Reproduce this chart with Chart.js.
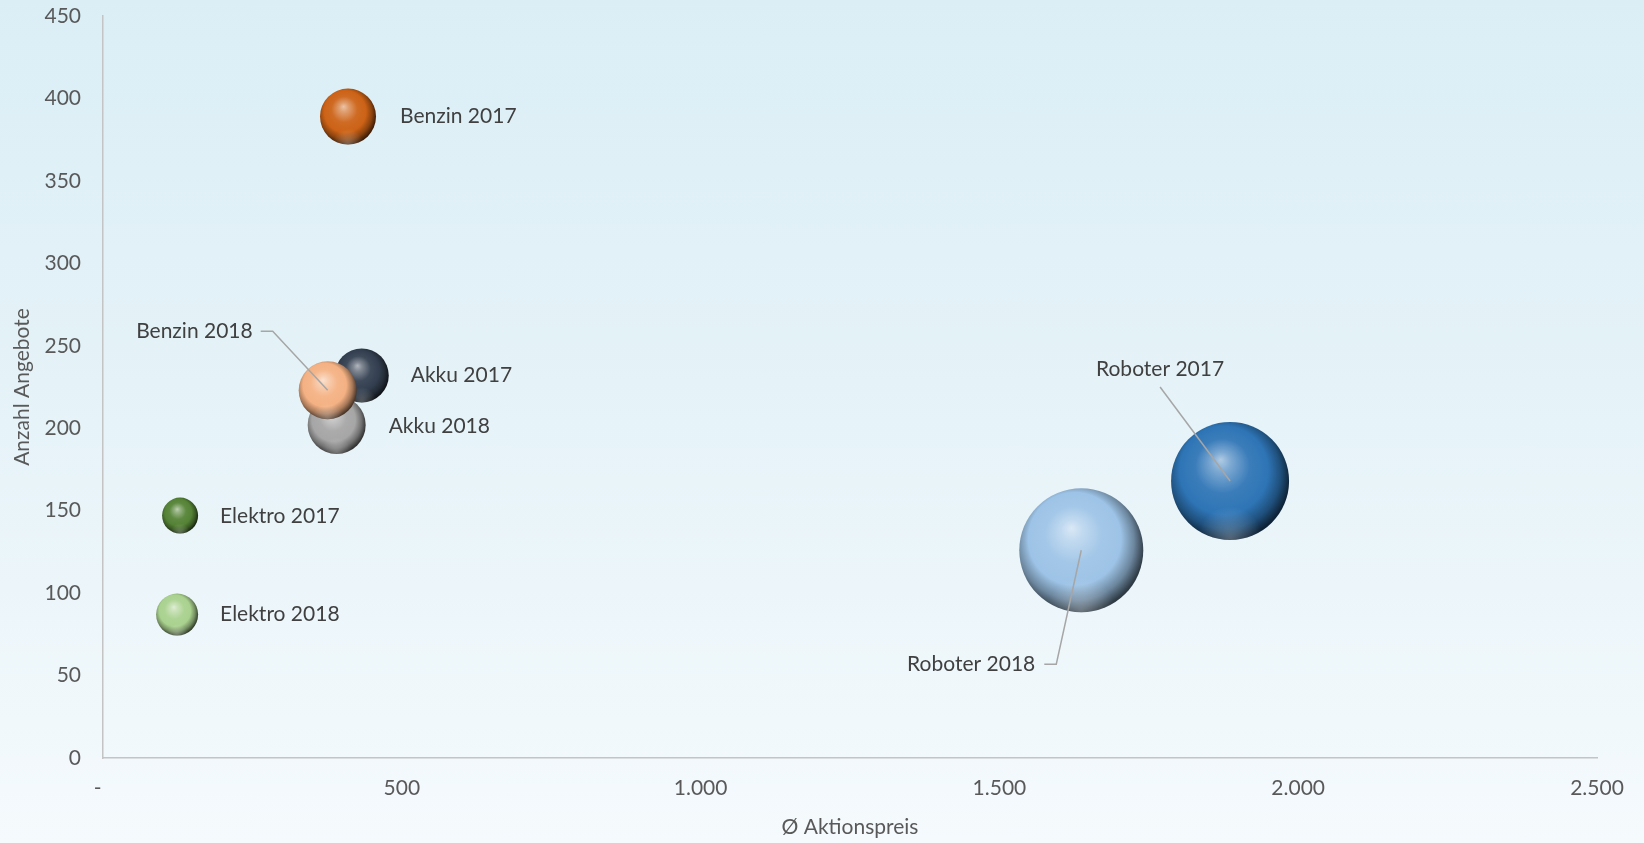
<!DOCTYPE html>
<html><head><meta charset="utf-8">
<script src="https://cdn.jsdelivr.net/npm/chart.js@4"></script>
<style>
html,body{margin:0;padding:0;overflow:hidden;width:1644px;height:843px;background:linear-gradient(180deg,#dbeef6 0%,#e6f3f8 50%,#f5fafd 100%)}
canvas{display:block}
</style>
</head><body>
<canvas id="c" width="1644" height="843"></canvas>
<script>
// ---- data ----
const seriesNames = ['Benzin 2017','Benzin 2018','Akku 2017','Akku 2018','Elektro 2017','Elektro 2018','Roboter 2017','Roboter 2018'];
const avgPrice    = [410, 376, 433, 391, 129, 124, 1886, 1637];
const offerCount  = [389, 223, 232, 202, 147, 87, 168, 126];
const bubbleSize  = [28, 29, 27, 29, 18, 21, 59, 62];
const xTickValues = [0, 500, 1000, 1500, 2000, 2500];
const yTickValues = [0, 50, 100, 150, 200, 250, 300, 350, 400, 450];

// ---- styles ----
const seriesColors = ['#cc6216','#f4b183','#333f50','#a6a6a6','#548235','#a9d18e','#2e75b6','#9dc3e6'];
// label placement relative to bubble centre (px)
const labelLayout = [
  {dx: 52,  dy: 0,    align: 'left'},
  {dx: -75, dy: -59,  align: 'right', leader: [[-67,-59],[-55,-59],[0,0]]},
  {dx: 49,  dy: 0,    align: 'left'},
  {dx: 52,  dy: 1,    align: 'left'},
  {dx: 40,  dy: 1,    align: 'left'},
  {dx: 43,  dy: 0,    align: 'left'},
  {dx: -70, dy: -112, align: 'center', leader: [[-70,-94],[0,0]]},
  {dx: -46, dy: 114,  align: 'right', leader: [[-37,114],[-25,114],[0,0]]}
];

function shade(hex, amt) {
  const n = parseInt(hex.slice(1), 16);
  let r = n >> 16, g = (n >> 8) & 255, b = n & 255;
  if (amt >= 0) { r += (255 - r) * amt; g += (255 - g) * amt; b += (255 - b) * amt; }
  else { r *= 1 + amt; g *= 1 + amt; b *= 1 + amt; }
  return 'rgb(' + Math.round(r) + ',' + Math.round(g) + ',' + Math.round(b) + ')';
}
function sphere(ctx) {
  const chart = ctx.chart, i = ctx.datasetIndex, c = seriesColors[i];
  if (!chart.chartArea || !ctx.raw) return c;
  const x = chart.scales.x.getPixelForValue(ctx.raw.x);
  const y = chart.scales.y.getPixelForValue(ctx.raw.y);
  const r = ctx.raw.r;
  const g = chart.ctx.createRadialGradient(x - r * 0.16, y - r * 0.36, 0, x - r * 0.08, y - r * 0.1, r * 1.1);
  g.addColorStop(0, shade(c, 0.62));
  g.addColorStop(0.15, shade(c, 0.38));
  g.addColorStop(0.42, shade(c, 0.06));
  g.addColorStop(0.68, c);
  g.addColorStop(0.86, shade(c, -0.32));
  g.addColorStop(1, shade(c, -0.7));
  return g;
}
function fmtDE(v) {
  if (v === 0) return '-  ';
  return String(v).replace(/\B(?=(\d{3})+(?!\d))/g, '.');
}

const reflectionPlugin = {
  id: 'sphereReflection',
  afterDatasetDraw(chart, args) {
    const el = chart.getDatasetMeta(args.index).data[0];
    if (!el) return;
    const r = el.options.radius, x = el.x, y = el.y, ctx = chart.ctx;
    ctx.save();
    ctx.beginPath();
    ctx.arc(x, y, r, 0, Math.PI * 2);
    ctx.clip();
    const g = ctx.createRadialGradient(x, y + r * 0.98, 0, x, y + r * 0.98, r * 0.55);
    g.addColorStop(0, 'rgba(255,255,255,0.28)');
    g.addColorStop(1, 'rgba(255,255,255,0)');
    ctx.fillStyle = g;
    ctx.fillRect(x - r, y - r, 2 * r, 2 * r);
    ctx.restore();
  }
};

const labelPlugin = {
  id: 'bubbleLabels',
  afterDatasetsDraw(chart) {
    const ctx = chart.ctx;
    ctx.save();
    ctx.font = '21px Lato';
    ctx.textBaseline = 'middle';
    chart.data.datasets.forEach((ds, i) => {
      const el = chart.getDatasetMeta(i).data[0];
      const L = labelLayout[i];
      if (L.leader) {
        ctx.strokeStyle = '#a6a6a6';
        ctx.lineWidth = 1.5;
        ctx.beginPath();
        L.leader.forEach((p, k) => {
          const px = el.x + p[0], py = el.y + p[1];
          if (k === 0) ctx.moveTo(px, py); else ctx.lineTo(px, py);
        });
        ctx.stroke();
      }
      ctx.fillStyle = '#404040';
      ctx.textAlign = L.align;
      ctx.fillText(ds.label, el.x + L.dx, el.y + L.dy);
    });
    ctx.restore();
  }
};

Chart.defaults.font.family = 'Lato';
Chart.defaults.font.size = 21;
Chart.defaults.color = '#595959';

new Chart(document.getElementById('c'), {
  type: 'bubble',
  data: {
    datasets: seriesNames.map((name, i) => ({
      label: name,
      data: [{x: avgPrice[i], y: offerCount[i], r: bubbleSize[i]}],
      backgroundColor: sphere,
      hoverBackgroundColor: sphere,
      borderWidth: 0,
      hoverBorderWidth: 0,
      hoverRadius: 0,
      clip: false
    }))
  },
  options: {
    responsive: false,
    animation: false,
    devicePixelRatio: 1,
    events: [],
    layout: {autoPadding: false, padding: {left: 0, top: 16, right: 47, bottom: 0}},
    plugins: {legend: {display: false}, tooltip: {enabled: false}},
    scales: {
      x: {
        type: 'linear', min: 0, max: 2500,
        afterBuildTicks: s => { s.ticks = xTickValues.map(v => ({value: v})); },
        afterFit: s => { s.height = 85; s.paddingLeft = 0; s.paddingRight = 0; s.paddingTop = 0; s.paddingBottom = 0; },
        grid: {display: false},
        border: {display: true, color: '#c4c4c4', width: 1.5},
        ticks: {padding: 10, color: '#595959', callback: v => fmtDE(v), maxRotation: 0},
        title: {display: true, text: 'Ø Aktionspreis', color: '#595959', padding: {top: 0, bottom: 3}}
      },
      y: {
        type: 'linear', min: 0, max: 450,
        afterBuildTicks: s => { s.ticks = yTickValues.map(v => ({value: v})); },
        afterFit: s => { s.width = 103; s.paddingLeft = 0; s.paddingRight = 0; s.paddingTop = 0; s.paddingBottom = 0; },
        grid: {display: false},
        border: {display: true, color: '#c4c4c4', width: 1.5},
        ticks: {padding: 14, color: '#595959'},
        title: {display: true, text: 'Anzahl Angebote', color: '#595959', padding: {top: 10, bottom: 0}}
      }
    }
  },
  plugins: [reflectionPlugin, labelPlugin]
});
</script>
</body></html>
